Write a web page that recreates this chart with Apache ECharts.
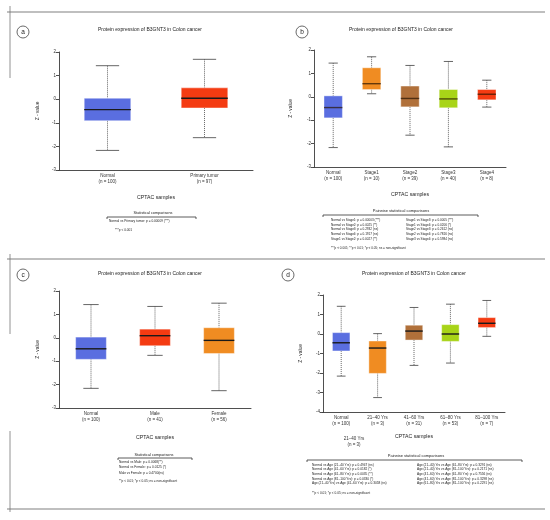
<!DOCTYPE html>
<html>
<head>
<meta charset="utf-8">
<script src="https://cdn.jsdelivr.net/npm/echarts@6/dist/echarts.min.js"></script>
<style>
  html, body { margin: 0; padding: 0; background: #fff; }
  #chart { width: 550px; height: 520px; }
</style>
</head>
<body>
<div id="chart"></div>
<script>
// box data: [min, q1, median, q3, max]
const catsA = ['Normal\n(n = 100)', 'Primary tumor\n(n = 97)'];
const boxesA = [[-2.17, -0.91, -0.44, 0.04, 1.42], [-1.63, -0.37, 0.04, 0.48, 1.69]];
const colorsA = ['#5a6ee0', '#f43b12'];

const catsB = ['Normal\n(n = 100)', 'Stage1\n(n = 10)', 'Stage2\n(n = 39)', 'Stage3\n(n = 40)', 'Stage4\n(n = 8)'];
const boxesB = [
  [-2.17, -0.90, -0.46, 0.04, 1.44],
  [0.13, 0.31, 0.56, 1.24, 1.71],
  [-1.64, -0.43, -0.07, 0.46, 1.34],
  [-2.14, -0.47, -0.09, 0.31, 1.51],
  [-0.44, -0.13, 0.11, 0.31, 0.71]
];
const colorsB = ['#5a6ee0', '#f08c22', '#b0703a', '#a8d418', '#f43b12'];

const catsC = ['Normal\n(n = 100)', 'Male\n(n = 41)', 'Female\n(n = 56)'];
const boxesC = [
  [-2.16, -0.92, -0.47, 0.03, 1.42],
  [-0.75, -0.34, 0.09, 0.37, 1.34],
  [-2.26, -0.67, -0.11, 0.43, 1.48]
];
const colorsC = ['#5a6ee0', '#f43b12', '#f08c22'];

const catsD = ['Normal\n(n = 100)', '21–40 Yrs\n(n = 3)', '41–60 Yrs\n(n = 31)', '61–80 Yrs\n(n = 53)', '81–100 Yrs\n(n = 7)'];
const boxesD = [
  [-2.16, -0.87, -0.45, 0.07, 1.42],
  [-3.26, -2.02, -0.72, -0.36, 0.02],
  [-1.61, -0.31, 0.15, 0.45, 1.36],
  [-1.49, -0.38, 0.0, 0.48, 1.53],
  [-0.12, 0.33, 0.55, 0.84, 1.72]
];
const colorsD = ['#5a6ee0', '#f08c22', '#b0703a', '#a8d418', '#f43b12'];

const titleText = 'Protein expression of B3GNT3 in Colon cancer';

const statsA = ['Normal vs Primary tumor: p = 0.00009 (***)'];
const noteA = '***p < 0.001';

const statsBLeft = [
  'Normal vs Stage1: p = 0.00003 (***)',
  'Normal vs Stage2: p = 0.0025 (**)',
  'Normal vs Stage3: p = 0.2932 (ns)',
  'Normal vs Stage4: p = 0.1917 (ns)',
  'Stage1 vs Stage2: p = 0.0027 (**)'
];
const statsBRight = [
  'Stage1 vs Stage3: p = 0.0005 (***)',
  'Stage1 vs Stage4: p = 0.0206 (*)',
  'Stage2 vs Stage3: p = 0.2612 (ns)',
  'Stage2 vs Stage4: p = 0.7816 (ns)',
  'Stage3 vs Stage4: p = 0.5984 (ns)'
];
const noteB = '***p < 0.001; **p < 0.01; *p < 0.05; ns = non-significant';

const statsC = [
  'Normal vs Male: p = 0.0068(**)',
  'Normal vs Female: p = 0.0125 (*)',
  'Male vs Female: p = 0.4700(ns)'
];
const noteC = '**p < 0.01; *p < 0.05; ns = non-significant';

const statsDLeft = [
  'Normal vs Age (21–40 Yrs): p = 0.4947 (ns)',
  'Normal vs Age (41–60 Yrs): p = 0.0182 (*)',
  'Normal vs Age (61–80 Yrs): p = 0.0035 (**)',
  'Normal vs Age (81–100 Yrs): p = 0.0330 (*)',
  'Age (21–40 Yrs) vs Age (41–60 Yrs): p = 0.3058 (ns)'
];
const statsDRight = [
  'Age (21–40) Yrs vs Age (61–80 Yrs): p = 0.3291 (ns)',
  'Age (21–40) Yrs vs Age (81–100 Yrs): p = 0.2171 (ns)',
  'Age (41–60) Yrs vs Age (61–80 Yrs): p = 0.7556 (ns)',
  'Age (41–60) Yrs vs Age (81–100 Yrs): p = 0.3298 (ns)',
  'Age (61–80) Yrs vs Age (81–100 Yrs): p = 0.2291 (ns)'
];
const noteD = '**p < 0.01; *p < 0.05; ns = non-significant';

const FONT = '"Liberation Sans", Arial, sans-serif';

function boxRenderer(colors, medianColor) {
  return function (params, api) {
    const i = api.value(0);
    const bw = api.size([1, 0])[0];
    const lo = api.coord([i, api.value(1)]);
    const q1 = api.coord([i, api.value(2)]);
    const md = api.coord([i, api.value(3)]);
    const q3 = api.coord([i, api.value(4)]);
    const hi = api.coord([i, api.value(5)]);
    const cx = lo[0];
    const half = bw * 0.24;
    const cap = bw * 0.12;
    const dash = { stroke: '#666', lineWidth: 1, lineDash: [1, 1] };
    const solid = { stroke: '#555', lineWidth: 0.9 };
    return {
      type: 'group',
      children: [
        { type: 'line', shape: { x1: cx, y1: hi[1], x2: cx, y2: q3[1] }, style: dash },
        { type: 'line', shape: { x1: cx, y1: q1[1], x2: cx, y2: lo[1] }, style: dash },
        { type: 'line', shape: { x1: cx - cap, y1: hi[1], x2: cx + cap, y2: hi[1] }, style: solid },
        { type: 'line', shape: { x1: cx - cap, y1: lo[1], x2: cx + cap, y2: lo[1] }, style: solid },
        {
          type: 'rect',
          shape: { x: cx - half, y: q3[1], width: half * 2, height: q1[1] - q3[1] },
          style: { fill: colors[params.dataIndex], stroke: 'rgba(255,255,255,0.5)', lineWidth: 0.8 }
        },
        { type: 'line', shape: { x1: cx - half, y1: md[1], x2: cx + half, y2: md[1] }, style: { stroke: medianColor, lineWidth: 1.4 } }
      ]
    };
  };
}

function xAxisFor(idx, cats, nameGap) {
  return {
    type: 'category',
    gridIndex: idx,
    data: cats,
    axisLine: { onZero: false, lineStyle: { color: '#222', width: 0.8 } },
    axisTick: { length: 3, lineStyle: { color: '#222', width: 0.8 } },
    axisLabel: { fontSize: 4.5, lineHeight: 6, color: '#333', margin: 3, interval: 0, fontFamily: FONT },
    name: 'CPTAC samples',
    nameLocation: 'middle',
    nameGap: nameGap,
    nameTextStyle: { fontSize: 5.2, color: '#222', fontFamily: FONT }
  };
}

function yAxisFor(idx, min, nameGap) {
  return {
    type: 'value',
    gridIndex: idx,
    min: min,
    max: 2,
    interval: 1,
    splitLine: { show: false },
    axisLine: { show: true, lineStyle: { color: '#222', width: 0.8 } },
    axisTick: { show: true, length: 3, lineStyle: { color: '#222', width: 0.8 } },
    axisLabel: { fontSize: 4.5, color: '#333', margin: 3, fontFamily: FONT },
    name: 'Z - value',
    nameLocation: 'middle',
    nameGap: nameGap,
    nameRotate: 90,
    nameTextStyle: { fontSize: 4.8, color: '#222', fontFamily: FONT }
  };
}

function boxSeries(idx, boxes, colors, medianColor) {
  return {
    type: 'custom',
    xAxisIndex: idx,
    yAxisIndex: idx,
    renderItem: boxRenderer(colors, medianColor),
    encode: { x: 0, y: [1, 2, 3, 4, 5] },
    data: boxes.map((b, i) => [i].concat(b))
  };
}

function txt(x, y, text, size, align, color) {
  return {
    type: 'text', x: x, y: y, silent: true,
    style: {
      text: text, fontSize: size, fontFamily: FONT, fill: color || '#222',
      textAlign: align || 'left', textVerticalAlign: 'middle',
      align: align || 'left', verticalAlign: 'middle'
    }
  };
}

function hline(x1, x2, y, color, w) {
  return { type: 'line', silent: true, shape: { x1: x1, y1: y, x2: x2, y2: y }, style: { stroke: color, lineWidth: w } };
}
function vline(x, y1, y2, color, w) {
  return { type: 'line', silent: true, shape: { x1: x, y1: y1, x2: x, y2: y2 }, style: { stroke: color, lineWidth: w } };
}

function badge(cx, cy, letter) {
  return [
    { type: 'circle', silent: true, shape: { cx: cx, cy: cy, r: 6 }, style: { fill: 'none', stroke: '#444', lineWidth: 0.8 } },
    txt(cx, cy, letter, 6.5, 'center', '#222')
  ];
}

function bracket(x1, x2, y) {
  return {
    type: 'polyline', silent: true,
    shape: { points: [[x1, y + 2], [x1, y], [x2, y], [x2, y + 2]] },
    style: { fill: 'none', stroke: '#333', lineWidth: 0.8 }
  };
}

function rows(list, x, y0, step, size) {
  return list.map((t, i) => txt(x, y0 + i * step, t, size, 'left'));
}

const graphics = [].concat(
  // frame lines
  hline(7, 545, 12, '#aaa', 1.5),
  hline(7, 545, 259, '#aaa', 1.5),
  hline(7, 545, 509, '#aaa', 1.5),
  vline(10, 6, 78, '#777', 0.8),
  vline(10, 254, 334, '#777', 0.8),
  vline(10, 431, 512, '#777', 0.8),
  // panel letters and titles
  badge(23, 32, 'a'), badge(302, 32, 'b'), badge(23, 275, 'c'), badge(288, 275, 'd'),
  txt(150, 30, titleText, 5, 'center'),
  txt(401, 30, titleText, 5, 'center'),
  txt(150, 274, titleText, 5, 'center'),
  txt(414, 274, titleText, 5, 'center'),
  // panel a stats
  txt(153, 213, 'Statistical comparisons', 3.8, 'center'),
  bracket(107, 196, 217),
  rows(statsA, 109, 221, 5, 3.2),
  txt(115, 230, noteA, 3.2, 'left'),
  // panel b stats
  txt(401, 211, 'Pairwise statistical comparisons', 4, 'center'),
  bracket(323, 478, 215),
  rows(statsBLeft, 331, 220, 4.8, 3.1),
  rows(statsBRight, 406, 220, 4.8, 3.1),
  txt(331, 248, noteB, 3.1, 'left'),
  // panel c stats
  txt(154, 455, 'Statistical comparisons', 3.8, 'center'),
  bracket(118, 192, 458),
  rows(statsC, 119, 462, 5.4, 3.2),
  txt(119, 481, noteC, 3.2, 'left'),
  // panel d extra label and stats
  txt(354, 439, '21–40 Yrs', 4.5, 'center', '#333'),
  txt(354, 444.5, '(n = 3)', 4.5, 'center', '#333'),
  txt(416, 456, 'Pairwise statistical comparisons', 4, 'center'),
  bracket(307, 522, 460),
  rows(statsDLeft, 312, 465, 4.6, 3.2),
  rows(statsDRight, 417, 465, 4.6, 3.2),
  txt(312, 493, noteD, 3.2, 'left')
);

const chart = echarts.init(document.getElementById('chart'));
chart.setOption({
  animation: false,
  backgroundColor: '#fff',
  grid: [
    { left: 59, top: 52, width: 194, height: 118 },
    { left: 314, top: 50, width: 192, height: 117 },
    { left: 59, top: 291, width: 192, height: 117 },
    { left: 323, top: 295, width: 182, height: 117 }
  ],
  xAxis: [
    xAxisFor(0, catsA, 25),
    xAxisFor(1, catsB, 25),
    xAxisFor(2, catsC, 27),
    xAxisFor(3, catsD, 22)
  ],
  yAxis: [
    yAxisFor(0, -3, 19),
    yAxisFor(1, -3, 21),
    yAxisFor(2, -3, 19),
    yAxisFor(3, -4, 20)
  ],
  series: [
    boxSeries(0, boxesA, colorsA, '#1a1a1a'),
    boxSeries(1, boxesB, colorsB, 'rgba(40,20,0,0.7)'),
    boxSeries(2, boxesC, colorsC, '#1a1a1a'),
    boxSeries(3, boxesD, colorsD, '#1a1a1a')
  ],
  graphic: graphics
});
</script>
</body>
</html>
